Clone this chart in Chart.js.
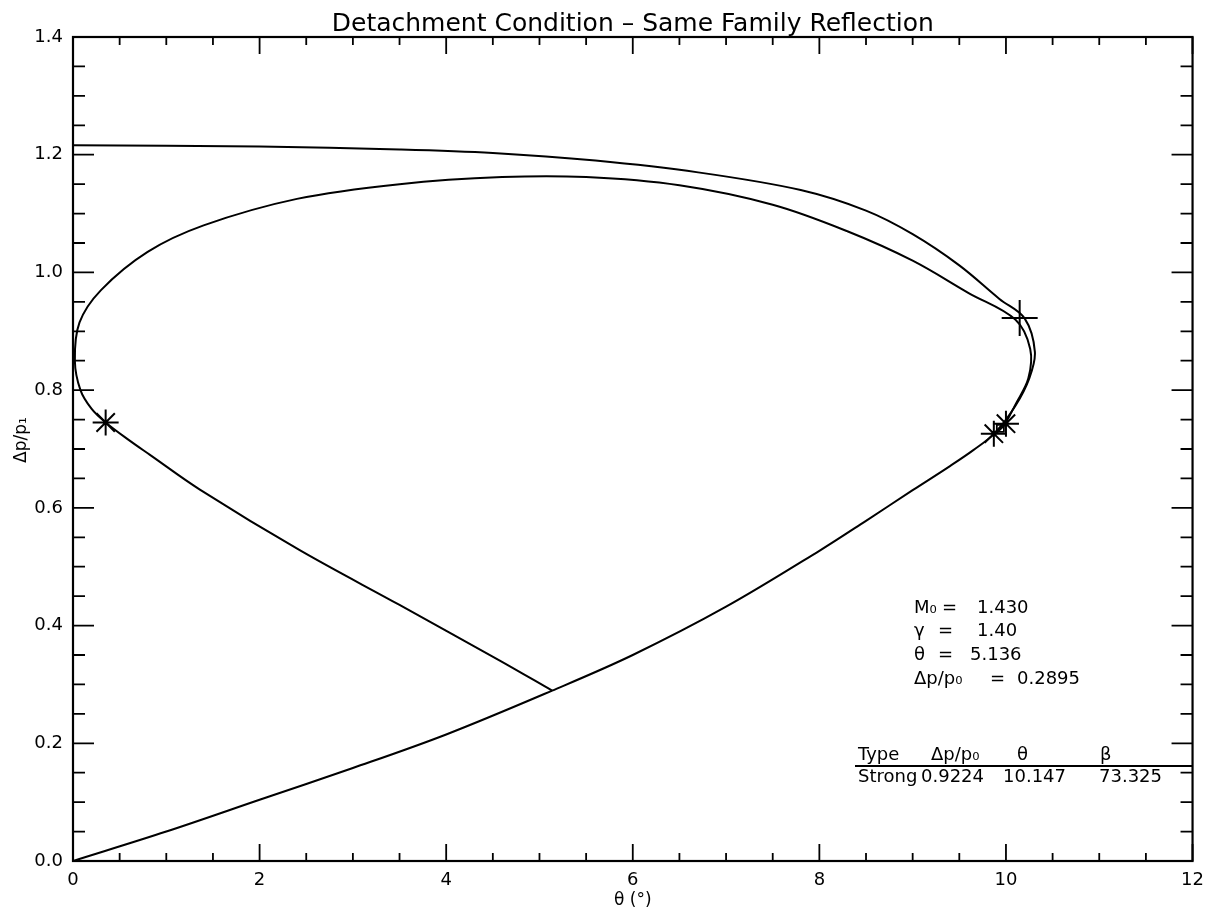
<!DOCTYPE html>
<html>
<head>
<meta charset="utf-8">
<script src="https://cdn.jsdelivr.net/npm/chart.js@4.4.1/dist/chart.umd.min.js"></script>
<style>
  html,body{margin:0;padding:0;background:#fff;}
  #wrap{width:1213px;height:916px;}
</style>
</head>
<body>
<div id="wrap"><canvas id="c" width="1213" height="916"></canvas></div>
<script>
// ---- data ----
const chartTitle = "Detachment Condition \u2013 Same Family Reflection";
const xTitle = "\u03B8 (\u00B0)";
const yTitle = "\u0394p/p\u2081";
const xTickValues = [0, 2, 4, 6, 8, 10, 12];
const yTickValues = [0.0, 0.2, 0.4, 0.6, 0.8, 1.0, 1.2, 1.4];

// incident shock polar (lower branch from origin, round the right tip, back along the top)
const polar1Theta = [0, 1, 2, 3, 4, 5.136, 6, 7, 8, 8.5, 9, 9.4, 9.65, 9.88, 10.1, 10.25, 10.31, 10.2, 9.93, 9.5, 9.0, 8.5, 7.8, 6.7, 5.6, 4.5, 3.5, 2, 0];
const polar1Dp    = [0, 0.05, 0.104, 0.158, 0.215, 0.2895, 0.35, 0.432, 0.527, 0.578, 0.63, 0.671, 0.698, 0.727, 0.773, 0.82, 0.865, 0.922, 0.955, 1.012, 1.065, 1.105, 1.14, 1.17, 1.19, 1.203, 1.209, 1.214, 1.216];

// reflected shock polar starting at the incident point
const polar2Theta = [5.136, 4.57, 3.5, 2.43, 1.36, 0.825, 0.6, 0.35, 0.2, 0.08, 0.02, 0.07, 0.3, 0.8, 1.4, 2.4, 3.5, 4.6, 5.5, 6.5, 7.5, 8.3, 9.0, 9.6, 10.1, 10.26, 10.24, 10.1, 10.0];
const polar2Dp    = [0.2895, 0.341, 0.435, 0.528, 0.631, 0.69, 0.715, 0.745, 0.768, 0.8, 0.85, 0.915, 0.97, 1.035, 1.08, 1.125, 1.15, 1.162, 1.162, 1.148, 1.115, 1.07, 1.02, 0.965, 0.92, 0.87, 0.82, 0.775, 0.745];

// markers
const starTheta = [0.35, 9.87, 10.0];
const starDp    = [0.745, 0.726, 0.743];
const squareTheta = [9.94];
const squareDp    = [0.735];
const plusTheta = [10.147];
const plusDp    = [0.9224];

// annotation text
const infoLabels = ["M\u2080", "\u03B3", "\u03B8", "\u0394p/p\u2080"];
const infoValues = ["1.430", "1.40", "5.136", "0.2895"];
const tableHeader = ["Type", "\u0394p/p\u2080", "\u03B8", "\u03B2"];
const tableRow = ["Strong", "0.9224", "10.147", "73.325"];

// ---- helpers ----
const toPts = (xs, ys) => xs.map((v, i) => ({x: v, y: ys[i]}));

const boxAndTicks = {
  id: 'boxAndTicks',
  afterDatasetsDraw(chart) {
    const {ctx, chartArea: a, scales: {x, y}} = chart;
    ctx.save();
    ctx.strokeStyle = '#000';
    ctx.lineWidth = 2.2;
    ctx.strokeRect(a.left, a.top, a.right - a.left, a.bottom - a.top);
    ctx.lineWidth = 1.8;
    // x ticks every 0.5, major every 2
    for (let i = 0; i <= 24; i++) {
      const v = i * 0.5;
      const px = x.getPixelForValue(v);
      const len = (i % 4 === 0) ? 17 : 8;
      ctx.beginPath();
      ctx.moveTo(px, a.bottom); ctx.lineTo(px, a.bottom - len);
      ctx.moveTo(px, a.top); ctx.lineTo(px, a.top + len);
      ctx.stroke();
    }
    // y ticks every 0.05, major every 0.2
    for (let i = 0; i <= 28; i++) {
      const v = i * 0.05;
      const py = y.getPixelForValue(v);
      const len = (i % 4 === 0) ? 21 : 12;
      ctx.beginPath();
      ctx.moveTo(a.left, py); ctx.lineTo(a.left + len, py);
      ctx.moveTo(a.right, py); ctx.lineTo(a.right - len, py);
      ctx.stroke();
    }
    ctx.restore();
  },
  afterDraw(chart) {
    const {ctx, chartArea: a} = chart;
    ctx.save();
    ctx.fillStyle = '#000';
    // title
    ctx.font = '25px "DejaVu Sans"';
    ctx.textAlign = 'center';
    ctx.textBaseline = 'alphabetic';
    ctx.fillText(chartTitle, (a.left + a.right) / 2, 31);
    // x title
    ctx.font = '17px "DejaVu Sans"';
    ctx.fillText(xTitle, (a.left + a.right) / 2, 905);
    // y title
    ctx.save();
    ctx.translate(26, 440);
    ctx.rotate(-Math.PI / 2);
    ctx.fillText(yTitle, 0, 0);
    ctx.restore();
    // info block
    ctx.textAlign = 'left';
    ctx.font = '18px "DejaVu Sans"';
    const baseY = [613, 636, 660, 684];
    const eqX = [942, 938, 938, 990];
    const valX = [977, 977, 970, 1017];
    for (let i = 0; i < infoLabels.length; i++) {
      ctx.fillText(infoLabels[i], 914, baseY[i]);
      ctx.fillText("=", eqX[i], baseY[i]);
      ctx.fillText(infoValues[i], valX[i], baseY[i]);
    }
    // table
    const colX = [858, 931, 1017, 1100];
    const hdrY = 760, rowY = 782;
    for (let i = 0; i < 4; i++) ctx.fillText(tableHeader[i], colX[i], hdrY);
    const rowX = [858, 921, 1003, 1099];
    for (let i = 0; i < 4; i++) ctx.fillText(tableRow[i], rowX[i], rowY);
    ctx.strokeStyle = '#000';
    ctx.lineWidth = 2;
    ctx.beginPath();
    ctx.moveTo(855, hdrY + 6); ctx.lineTo(a.right, hdrY + 6);
    ctx.stroke();
    ctx.restore();
  }
};

const lineStyle = {showLine: true, borderColor: '#000', borderWidth: 2, pointRadius: 0, tension: 0.35, fill: false};

new Chart(document.getElementById('c'), {
  type: 'scatter',
  data: {
    datasets: [
      Object.assign({label: 'polar1', data: toPts(polar1Theta, polar1Dp)}, lineStyle),
      Object.assign({label: 'polar2', data: toPts(polar2Theta, polar2Dp)}, lineStyle),
      {label: 'stars', data: toPts(starTheta, starDp), pointStyle: 'star', pointRadius: 13, borderColor: '#000', borderWidth: 2, backgroundColor: 'rgba(0,0,0,0)', showLine: false},
      {label: 'square', data: toPts(squareTheta, squareDp), pointStyle: 'rect', pointRadius: 5, borderColor: '#000', borderWidth: 1.8, backgroundColor: 'rgba(0,0,0,0)', showLine: false},
      {label: 'plus', data: toPts(plusTheta, plusDp), pointStyle: 'cross', pointRadius: 18, borderColor: '#000', borderWidth: 2, backgroundColor: 'rgba(0,0,0,0)', showLine: false}
    ]
  },
  options: {
    responsive: false,
    animation: false,
    devicePixelRatio: 1,
    layout: {padding: {left: 0, top: 37, right: 20, bottom: 0}},
    plugins: {legend: {display: false}, tooltip: {enabled: false}, title: {display: false}},
    scales: {
      x: {
        type: 'linear', min: 0, max: 12,
        afterBuildTicks: s => { s.ticks = xTickValues.map(v => ({value: v})); },
        afterFit: s => { s.height = 55; },
        grid: {display: false, drawTicks: false},
        border: {display: false},
        ticks: {padding: 9, color: '#000', font: {family: 'DejaVu Sans', size: 18}, callback: v => String(v), maxRotation: 0}
      },
      y: {
        type: 'linear', min: 0, max: 1.4,
        afterBuildTicks: s => { s.ticks = yTickValues.map(v => ({value: v})); },
        afterFit: s => { s.width = 73; },
        grid: {display: false, drawTicks: false},
        border: {display: false},
        ticks: {padding: 10, color: '#000', font: {family: 'DejaVu Sans', size: 18}, callback: v => Number(v).toFixed(1)}
      }
    }
  },
  plugins: [boxAndTicks]
});
</script>
</body>
</html>
